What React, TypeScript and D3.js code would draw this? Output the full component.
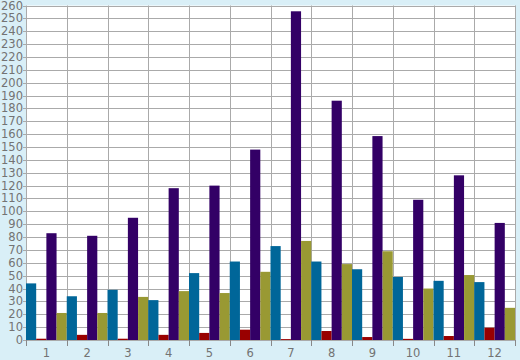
import React from "react";
import * as d3 from "d3";

const categories = ["1", "2", "3", "4", "5", "6", "7", "8", "9", "10", "11", "12"];
const seriesNames = ["blue", "red", "purple", "olive"];
const seriesColors = ["#006699", "#990000", "#330066", "#999933"];
const blueValues = [44, 34, 39, 31, 52, 61, 73, 61, 55, 49, 46, 45];
const redValues = [1, 4, 1, 4, 5.5, 8, 0.7, 7, 2.3, 0.9, 3.1, 9.6];
const purpleValues = [83, 81, 95, 118, 120, 148, 255.5, 186, 158.5, 109, 128, 91];
const oliveValues = [21, 21, 33.5, 38, 36.5, 53, 77, 59, 69, 40, 50.5, 25];
const yTicks = d3.range(0, 261, 10);

const W = 520;
const H = 360;
const left = 26;
const right = 515;
const top = 5.5;
const bottom = 340;

export default function App() {
  const seriesValues = [blueValues, redValues, purpleValues, oliveValues];
  const x = d3.scaleBand<string>().domain(categories).range([left, right]).padding(0);
  const xi = d3.scaleBand<string>().domain(seriesNames).range([0, x.bandwidth()]).padding(0);
  const y = d3.scaleLinear().domain([0, 260]).range([bottom, top]);
  const font = "'DejaVu Sans', Verdana, sans-serif";

  return (
    <div style={{ position: "absolute", left: 0, top: 0 }}>
      <svg width={W} height={H} style={{ display: "block" }}>
        <rect x={0} y={0} width={W} height={H} fill="#d9eff7" />
        <rect x={left} y={top} width={right - left} height={bottom - top} fill="#ffffff" />
        {yTicks.map((t) => (
          <line
            key={"gy" + t}
            x1={left - 3}
            x2={right}
            y1={Math.round(y(t)) + 0.5}
            y2={Math.round(y(t)) + 0.5}
            stroke="#aaaaaa"
            strokeWidth={1}
          />
        ))}
        {categories.map((c) => (
          <line
            key={"gx" + c}
            x1={Math.round(x(c)!) + 0.5}
            x2={Math.round(x(c)!) + 0.5}
            y1={top}
            y2={bottom + 6}
            stroke="#aaaaaa"
            strokeWidth={1}
          />
        ))}
        <line x1={right + 0.5} x2={right + 0.5} y1={top} y2={bottom + 6} stroke="#aaaaaa" />
        {categories.map((c, i) =>
          seriesNames.map((s, j) => {
            const v = seriesValues[j][i];
            const x0 = x(c)! + xi(s)!;
            return (
              <rect
                key={c + s}
                x={x0}
                y={y(v)}
                width={xi.bandwidth()}
                height={y(0) - y(v)}
                fill={seriesColors[j]}
              />
            );
          })
        )}
        <line x1={left - 3} x2={right} y1={bottom + 0.5} y2={bottom + 0.5} stroke="#aaaaaa" />
        {categories.map((c) => (
          <line
            key={"tk" + c}
            x1={Math.round(x(c)!) + 0.5}
            x2={Math.round(x(c)!) + 0.5}
            y1={bottom}
            y2={bottom + 6}
            stroke="#888888"
          />
        ))}
        <line x1={right + 0.5} x2={right + 0.5} y1={bottom} y2={bottom + 6} stroke="#888888" />
        {yTicks.map((t) => (
          <text
            key={"ly" + t}
            x={23}
            y={y(t) + 4}
            textAnchor="end"
            fontFamily={font}
            fontSize={11.5}
            fill="#737373"
          >
            {t}
          </text>
        ))}
        {categories.map((c) => (
          <text
            key={"lx" + c}
            x={x(c)! + x.bandwidth() / 2}
            y={357}
            textAnchor="middle"
            fontFamily={font}
            fontSize={11.5}
            fill="#737373"
          >
            {c}
          </text>
        ))}
      </svg>
    </div>
  );
}
